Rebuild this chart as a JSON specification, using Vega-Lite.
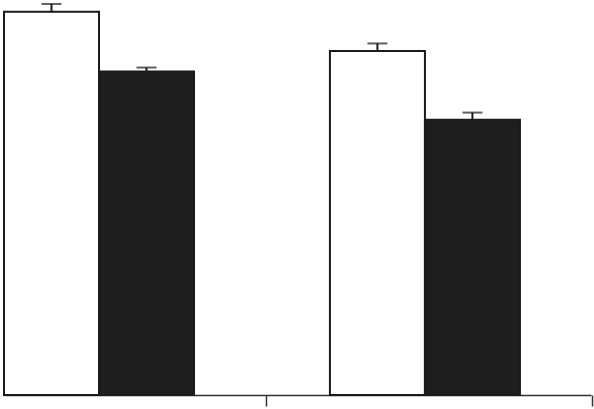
{
  "$schema": "https://vega.github.io/schema/vega-lite/v6.json",
  "width": 587,
  "height": 395,
  "padding": {"left": 3, "top": 0, "right": 4, "bottom": 0},
  "background": "white",
  "config": {"view": {"stroke": null}},
  "data": {
    "values": [
      {"group": "A", "series": "white", "mean": 97.0, "upper": 99.0},
      {"group": "A", "series": "black", "mean": 81.9, "upper": 82.9},
      {"group": "B", "series": "white", "mean": 87.1, "upper": 89.0},
      {"group": "B", "series": "black", "mean": 69.7, "upper": 71.5}
    ]
  },
  "encoding": {
    "x": {
      "field": "group",
      "type": "nominal",
      "scale": {"paddingInner": 0.417, "paddingOuter": 0.109, "align": 0},
      "axis": {
        "title": null,
        "labels": false,
        "bandPosition": 1.38,
        "tickSize": 11,
        "tickWidth": 1.5,
        "tickColor": "#333333",
        "domainColor": "#333333",
        "domainWidth": 1.5,
        "grid": false
      }
    },
    "xOffset": {
      "field": "series",
      "type": "nominal",
      "scale": {"domain": ["white", "black"], "paddingInner": 0, "paddingOuter": 0}
    }
  },
  "layer": [
    {
      "mark": {"type": "rule", "color": "#1a1a1a", "strokeWidth": 2},
      "encoding": {
        "y": {"field": "mean", "type": "quantitative", "scale": {"domain": [0, 100], "nice": false}, "axis": null},
        "y2": {"field": "upper"}
      }
    },
    {
      "mark": {"type": "tick", "color": "#1a1a1a", "thickness": 2, "size": 20},
      "encoding": {
        "y": {"field": "upper", "type": "quantitative", "axis": null}
      }
    },
    {
      "mark": {"type": "bar", "stroke": "#1a1a1a", "strokeWidth": 2},
      "encoding": {
        "y": {"field": "mean", "type": "quantitative", "axis": null},
        "fill": {
          "field": "series",
          "type": "nominal",
          "scale": {"domain": ["white", "black"], "range": ["#ffffff", "#1e1e1e"]},
          "legend": null
        }
      }
    }
  ]
}
